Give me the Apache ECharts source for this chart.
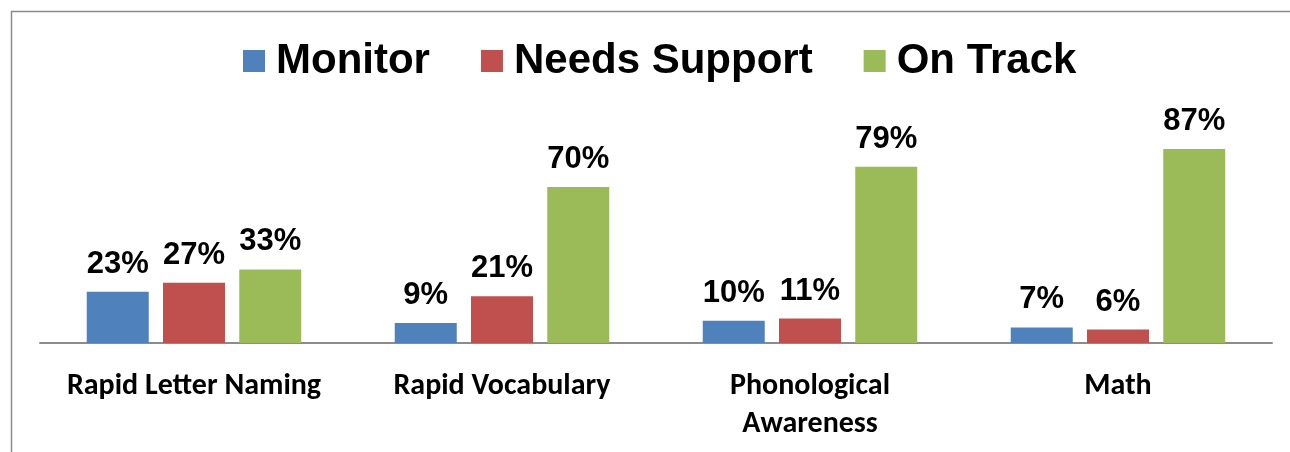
<!DOCTYPE html>
<html>
<head>
<meta charset="utf-8">
<script src="https://cdn.jsdelivr.net/npm/echarts@6/dist/echarts.min.js"></script>
<style>
html,body{margin:0;padding:0;background:#fff;}
#chart{width:1290px;height:452px;}
</style>
</head>
<body>
<div id="chart"></div>
<script>
var categories = ['Rapid Letter Naming', 'Rapid Vocabulary', 'Phonological\nAwareness', 'Math'];
var seriesNames = ['Monitor', 'Needs Support', 'On Track'];
var monitor = [23, 9, 10, 7];
var needsSupport = [27, 21, 11, 6];
var onTrack = [33, 70, 79, 87];
var colors = ['#4F81BD', '#C0504D', '#9BBB59'];

var chart = echarts.init(document.getElementById('chart'));
function mkSeries(name, data, color) {
  return {
    name: name,
    type: 'bar',
    data: data,
    barWidth: 62,
    barGap: '23%',
    itemStyle: { color: color },
    label: {
      show: true,
      position: 'top',
      distance: 12,
      formatter: '{c}%',
      fontFamily: 'Liberation Sans, Arial, sans-serif',
      fontWeight: 'bold',
      fontSize: 31,
      color: '#000'
    }
  };
}
chart.setOption({
  animation: false,
  backgroundColor: '#fff',
  color: colors,
  graphic: [
    { type: 'line', shape: { x1: 11, y1: 11.5, x2: 1290, y2: 11.5 }, style: { stroke: '#8a8a8a', lineWidth: 1.5 } },
    { type: 'line', shape: { x1: 11.5, y1: 11, x2: 11.5, y2: 452 }, style: { stroke: '#8a8a8a', lineWidth: 1.5 } }
  ],
  legend: {
    left: 238,
    top: 35,
    itemWidth: 22,
    itemHeight: 22,
    itemGap: 51,
    icon: 'rect',
    data: seriesNames,
    textStyle: {
      fontFamily: 'Liberation Sans, Arial, sans-serif',
      fontWeight: 'bold',
      fontSize: 42,
      color: '#000',
      padding: [0, 0, 0, 6]
    }
  },
  grid: { left: 40, right: 18, top: 120, bottom: 109, containLabel: false },
  xAxis: {
    type: 'category',
    data: categories,
    axisLine: { lineStyle: { color: '#8c8c8c', width: 2 } },
    axisTick: { show: false },
    axisLabel: {
      interval: 0,
      hideOverlap: false,
      margin: 24,
      fontFamily: 'Carlito, Lato, sans-serif',
      fontWeight: 'bold',
      fontSize: 30,
      lineHeight: 38,
      color: '#000'
    }
  },
  yAxis: {
    type: 'value',
    min: 0,
    max: 100,
    show: false,
    splitLine: { show: false }
  },
  series: [
    mkSeries(seriesNames[0], monitor, colors[0]),
    mkSeries(seriesNames[1], needsSupport, colors[1]),
    mkSeries(seriesNames[2], onTrack, colors[2])
  ]
});
</script>
</body>
</html>
